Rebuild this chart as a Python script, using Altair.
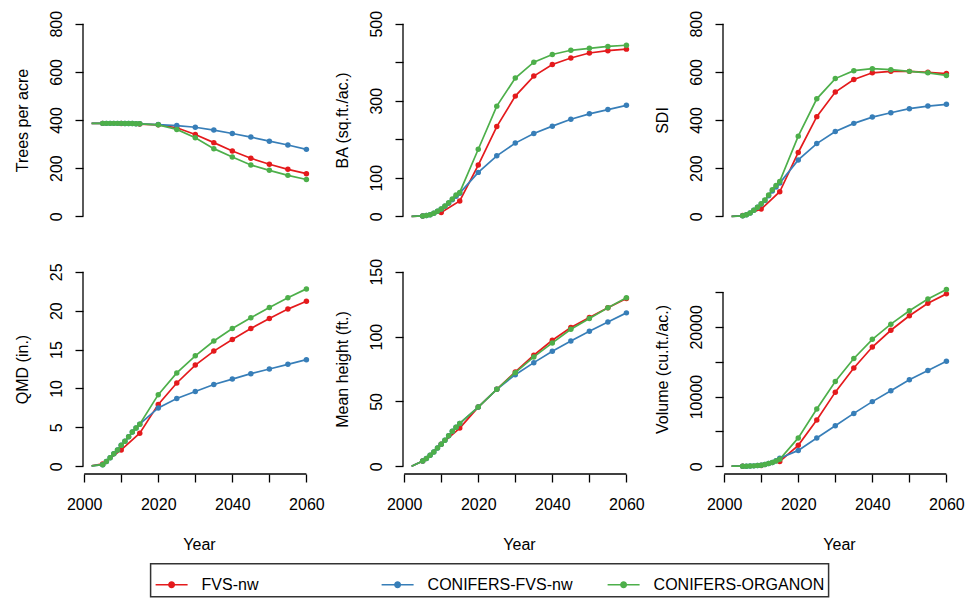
import altair as alt
import pandas as pd

FONT = "Liberation Sans"
SERIES = ["FVS-nw", "CONIFERS-FVS-nw", "CONIFERS-ORGANON"]
COLORS = ["#E41A1C", "#377EB8", "#4DAF4A"]

YEARS_FVS = [2002, 2005, 2010, 2015, 2020, 2025, 2030, 2035, 2040, 2045, 2050, 2055, 2060]
YEARS_CON = [2002, 2005, 2006, 2007, 2008, 2009, 2010, 2011, 2012, 2013, 2014, 2015,
             2020, 2025, 2030, 2035, 2040, 2045, 2050, 2055, 2060]

X_TICKS = [2000, 2010, 2020, 2030, 2040, 2050, 2060]
X_LABELS = [2000, 2020, 2040, 2060]

# Trees per acre
TPA_FVS = [386, 386, 385, 383, 380, 368, 340, 306, 271, 241, 216, 195, 177]
TPA_CFVS = [386, 386, 386, 386, 386, 386, 386, 385, 385, 385, 384, 384,
            381, 377, 370, 358, 344, 329, 312, 296, 278]
TPA_ORG = [386, 386, 386, 386, 386, 386, 386, 385, 385, 385, 384, 384,
           380, 361, 326, 281, 246, 213, 191, 170, 153]

# Basal area
BA_FVS = [0, 1, 10, 40, 133, 233, 312, 364, 394, 411, 424, 430, 434]
BA_CFVS = [0, 1, 2, 4, 8, 13, 19, 26, 34, 43, 52, 60,
           114, 157, 190, 215, 234, 252, 266, 277, 288]
BA_ORG = [0, 1, 2, 4, 8, 13, 19, 27, 35, 45, 55, 62,
          174, 286, 359, 400, 420, 431, 436, 441, 444]

# SDI
SDI_FVS = [0, 3, 30, 102, 265, 414, 516, 568, 596, 602, 602, 598, 593]
SDI_CFVS = [0, 2, 6, 14, 25, 38, 51, 66, 85, 105, 122, 138,
            234, 302, 352, 386, 412, 430, 447, 458, 465]
SDI_ORG = [0, 2, 6, 14, 25, 38, 52, 68, 88, 110, 128, 145,
           333, 488, 572, 605, 613, 609, 602, 596, 585]

# QMD
QMD_FVS = [0.05, 0.3, 2.1, 4.25, 7.95, 10.7, 13.0, 14.8, 16.3, 17.7, 19.0, 20.2, 21.2]
QMD_CFVS = [0.05, 0.2, 0.6, 1.1, 1.6, 2.1, 2.7, 3.2, 3.8, 4.4, 4.9, 5.4,
            7.5, 8.7, 9.6, 10.5, 11.2, 11.9, 12.5, 13.1, 13.7]
QMD_ORG = [0.05, 0.2, 0.6, 1.1, 1.6, 2.1, 2.7, 3.2, 3.8, 4.4, 4.9, 5.4,
           9.2, 12.0, 14.2, 16.1, 17.7, 19.1, 20.4, 21.65, 22.8]

# Mean height
HT_FVS = [0, 4, 17, 29.4, 45.6, 59.3, 72.7, 85.6, 97.2, 107, 114.7, 122.2, 129.4]
HT_CFVS = [0, 4, 6, 8.5, 11, 14, 17, 20, 23.5, 27, 30, 33,
           45.6, 59.3, 70.6, 79.9, 88.7, 96.6, 104.1, 111.3, 118.3]
HT_ORG = [0, 4, 6, 8.5, 11, 14, 17, 20, 23.5, 27, 30, 33,
          45.6, 59.3, 72.2, 84.3, 95.1, 105.7, 113.9, 122.2, 129.9]

# Volume
VOL_FVS = [0, 0, 100, 680, 3000, 6620, 10630, 14100, 17100, 19510, 21590, 23380, 24730]
VOL_CFVS = [0, 0, 0, 20, 50, 100, 150, 250, 380, 550, 800, 1160,
            2270, 4060, 5800, 7580, 9270, 10820, 12410, 13720, 15070]
VOL_ORG = [0, 0, 0, 20, 50, 100, 150, 250, 380, 550, 750, 1000,
           4060, 8210, 12170, 15460, 18210, 20380, 22310, 24000, 25360]

PANELS = [
    ("Trees per acre", [TPA_FVS, TPA_CFVS, TPA_ORG], [0, 800],
     [0, 200, 400, 600, 800], [0, 200, 400, 600, 800]),
    ("BA (sq.ft./ac.)", [BA_FVS, BA_CFVS, BA_ORG], [0, 500],
     [0, 100, 200, 300, 400, 500], [0, 100, 300, 500]),
    ("SDI", [SDI_FVS, SDI_CFVS, SDI_ORG], [0, 800],
     [0, 200, 400, 600, 800], [0, 200, 400, 600, 800]),
    ("QMD (in.)", [QMD_FVS, QMD_CFVS, QMD_ORG], [0, 25],
     [0, 5, 10, 15, 20, 25], [0, 5, 10, 15, 20, 25]),
    ("Mean height (ft.)", [HT_FVS, HT_CFVS, HT_ORG], [0, 150],
     [0, 50, 100, 150], [0, 50, 100, 150]),
    ("Volume (cu.ft./ac.)", [VOL_FVS, VOL_CFVS, VOL_ORG], [0, 27900],
     [0, 5000, 10000, 15000, 20000, 25000], [0, 10000, 20000]),
]

W = 232
H_TOP = 208
H_BOT = 210
X_DOM = [2002 - 0.04 * (2060 - 2002), 2060 + 0.04 * (2060 - 2002)]

# legend symbol: a line with a dot (concentric rings for a solid look)
DOT = "".join(
    f"M{-r},0A{r},{r},0,1,1,{r},0A{r},{r},0,1,1,{-r},0"
    for r in (0.17, 0.12, 0.07, 0.02)
)
SYMBOL = "M-1,0L1,0" + DOT

LEGEND = alt.Legend(
    title=None, orient="none", legendX=67.6, legendY=547.7,
    direction="horizontal", columns=3, gridAlign="all",
    symbolType=SYMBOL, symbolSize=1024, symbolStrokeWidth=1.6,
    labelFontSize=16, labelFont=FONT, labelColor="black", labelOffset=13,
    labelLimit=400, columnPadding=5, padding=4, strokeColor="#333333",
    fillColor="white",
)
CSCALE = alt.Scale(domain=SERIES, range=COLORS)


def label_expr(vals):
    return "indexof([" + ",".join(str(v) for v in vals) + "], datum.value) >= 0 ? datum.label : ''"


def panel(title, series_vals, ylim, yticks, ylabels, H, bottom):
    rng = ylim[1] - ylim[0]
    ysc = alt.Scale(domain=[ylim[0] - 0.04 * rng, ylim[1] + 0.04 * rng], nice=False, zero=False)
    xsc = alt.Scale(domain=X_DOM, nice=False, zero=False)
    yaxis = alt.Axis(
        title=title, values=yticks, labelExpr=label_expr(ylabels), format="d",
        domain=False, grid=False, ticks=True, tickSize=8, tickWidth=1.3, tickColor="black",
        labelAngle=270, labelAlign="center", labelBaseline="alphabetic", labelPadding=14,
        labelFontSize=16, labelFont=FONT, labelColor="black", labelOverlap=False,
        labelFlush=False, titleAngle=270, titleAlign="center", titleBaseline="alphabetic",
        titleX=-56, titleY=H / 2, titleFontSize=16, titleFontWeight="normal",
        titleFont=FONT, titleColor="black",
    )
    if bottom:
        xaxis = alt.Axis(
            title="Year", values=X_TICKS, labelExpr=label_expr(X_LABELS), format="d",
            domain=False, grid=False, ticks=True, tickSize=8, tickWidth=1.3, tickColor="black",
            labelBaseline="alphabetic", labelPadding=27, labelFontSize=16, labelFont=FONT,
            labelColor="black", labelOverlap=False, labelFlush=False,
            titleBaseline="alphabetic", titleX=W / 2, titleY=75, titleFontSize=16,
            titleFontWeight="normal", titleFont=FONT, titleColor="black",
        )
    else:
        xaxis = None

    layers = []
    for name, vals in zip(SERIES, series_vals):
        yrs = YEARS_FVS if name == "FVS-nw" else YEARS_CON
        df = pd.DataFrame({"year": yrs, "value": vals, "series": name})
        enc = dict(
            x=alt.X("year:Q", scale=xsc, axis=xaxis),
            y=alt.Y("value:Q", scale=ysc, axis=yaxis),
            color=alt.Color("series:N", scale=CSCALE, legend=LEGEND),
        )
        line = alt.Chart(df).mark_line(strokeWidth=1.7, clip=False).encode(**enc)
        pts = (alt.Chart(df).transform_filter("datum.year > 2002")
               .mark_point(filled=True, size=30, opacity=1).encode(**enc))
        layers += [line, pts]

    yr = pd.DataFrame({"lo": [yticks[0]], "hi": [yticks[-1]]})
    layers.append(
        alt.Chart(yr).mark_rule(color="black", strokeWidth=1.3).encode(
            x=alt.value(0),
            y=alt.Y("lo:Q", scale=ysc, axis=yaxis),
            y2="hi:Q",
        )
    )
    if bottom:
        xr = pd.DataFrame({"lo": [X_TICKS[0]], "hi": [X_TICKS[-1]]})
        layers.append(
            alt.Chart(xr).mark_rule(color="black", strokeWidth=1.3).encode(
                y=alt.value(H),
                x=alt.X("lo:Q", scale=xsc, axis=xaxis),
                x2="hi:Q",
            )
        )
    return alt.layer(*layers).properties(width=W, height=H)


cells = [panel(*p, H_TOP, False) for p in PANELS[:3]] + \
        [panel(*p, H_BOT, True) for p in PANELS[3:]]

chart = (
    alt.concat(*cells, columns=3, spacing=alt.RowColnumber(row=40, column=88), bounds="flush")
    .properties(padding={"left": 14, "top": 10, "right": 0, "bottom": 0}, background="white")
    .configure_view(stroke=None)
    .configure_legend(strokeWidth=1.5, cornerRadius=0)
)

chart.save("out.html", embed_options={"renderer": "svg", "actions": False})
